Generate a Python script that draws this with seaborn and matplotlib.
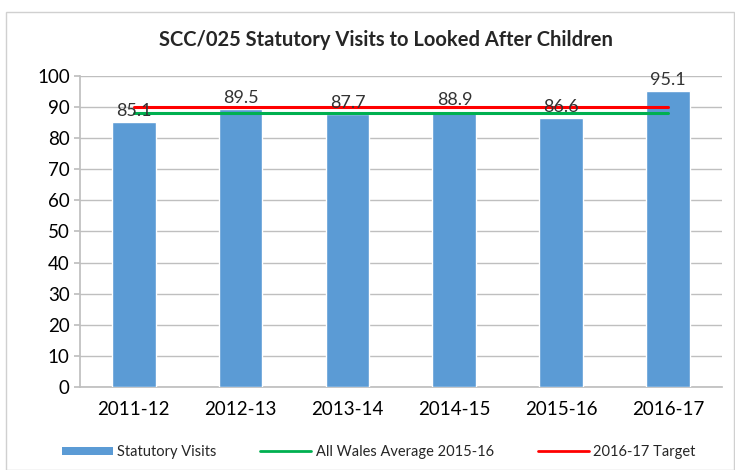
import matplotlib
matplotlib.use("Agg")
import matplotlib.pyplot as plt
import seaborn as sns
import pandas as pd
from matplotlib.patches import Rectangle, Patch
from matplotlib.lines import Line2D

years = ["2011-12", "2012-13", "2013-14", "2014-15", "2015-16", "2016-17"]
visits = [85.1, 89.5, 87.7, 88.9, 86.6, 95.1]
wales_avg = [88.2] * 6
target = [90.0] * 6

sns.set_theme(style="white")
plt.rcParams['font.family'] = ['Lato', 'DejaVu Sans']

fig = plt.figure(figsize=(7.35, 4.7), dpi=100)
ax = fig.add_axes([0.109, 0.177, 0.873, 0.661])

df = pd.DataFrame({"year": years, "visits": visits})
sns.barplot(data=df, x="year", y="visits", color="#5B9BD5", saturation=1,
            width=0.41, ax=ax, zorder=3)
xs = list(range(len(years)))
ax.plot(xs, wales_avg, color="#00B050", lw=2.2, zorder=4)
ax.plot(xs, target, color="#FF0000", lw=2.2, zorder=5)

for x, v in zip(xs, visits):
    ax.text(x, v + 1.0, f"{v:.1f}", ha="center", va="bottom", fontsize=13, color="#333333", zorder=6)

ax.set_ylim(0, 100)
ax.set_xlim(-0.5, 5.5)
ax.set_yticks(range(0, 101, 10))
ax.yaxis.grid(True, color="#BFBFBF", lw=1)
ax.set_axisbelow(True)
ax.set_xlabel("")
ax.set_ylabel("")
for s in ["top", "right"]:
    ax.spines[s].set_visible(False)
ax.spines["left"].set_color("#BFBFBF")
ax.spines["bottom"].set_color("#BFBFBF")
ax.tick_params(axis="y", labelsize=13.5, length=4, left=True, color="#BFBFBF")
ax.tick_params(axis="x", labelsize=13.5, length=0, pad=10)
for lab in ax.get_yticklabels() + ax.get_xticklabels():
    lab.set_color("black")

fig.text(0.525, 0.915, "SCC/025 Statutory Visits to Looked After Children",
         ha="center", va="center", fontsize=14.5, fontweight="bold")

handles = [Patch(facecolor="#5B9BD5", edgecolor="none"),
           Line2D([0], [0], color="#00B050", lw=2),
           Line2D([0], [0], color="#FF0000", lw=2)]
fig.legend(handles, ["Statutory Visits", "All Wales Average 2015-16", "2016-17 Target"],
           loc="center", bbox_to_anchor=(0.515, 0.038), ncol=3, frameon=False,
           fontsize=10.5, handlelength=3.5, handleheight=0.5, columnspacing=3, handletextpad=0.3)

fig.patches.append(Rectangle((0.008, 0.0), 0.99, 0.975, transform=fig.transFigure,
                             fill=False, edgecolor="#D0D0D0", lw=1))

fig.savefig("out.png", dpi=100)
